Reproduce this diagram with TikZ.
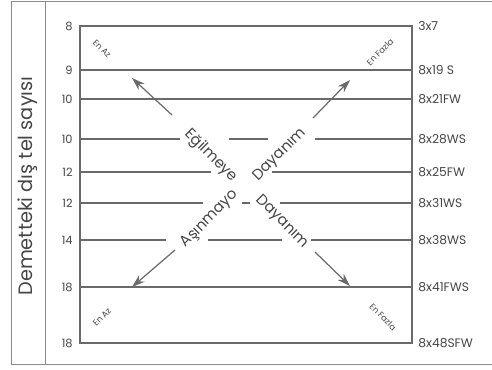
\documentclass[tikz,border=0pt]{standalone}
\usepackage{fontspec}
\setmainfont{Poppins}
\usetikzlibrary{arrows.meta}
\definecolor{inkgray}{HTML}{454545}
\definecolor{rulegray}{HTML}{6A6A6A}
\definecolor{framegray}{HTML}{8A8A8A}

\begin{document}
\begin{tikzpicture}[x=0.02cm, y=-0.02cm,
  >={Stealth[length=2.6mm, width=1.7mm]},
  rule/.style={rulegray, line width=0.6pt},
  arr/.style={->, line width=0.7pt, rulegray},
  lnum/.style={anchor=east, font=\fontsize{6.5}{7}\selectfont, text=inkgray, inner sep=0pt},
  rlab/.style={anchor=west, font=\fontsize{7}{8}\selectfont, text=inkgray, inner sep=0pt},
  diag/.style={font=\fontsize{8.5}{10}\selectfont, text=inkgray, inner sep=0pt},
  tag/.style={font=\fontsize{4.8}{6}\selectfont, text=inkgray, inner sep=0pt},
]
\useasboundingbox (0,0) rectangle (492,369);

% Outer frame and label column
\draw[framegray, line width=0.5pt] (492,1) -- (11,1) -- (11,364) -- (492,364);
\draw[framegray, line width=0.5pt] (45,1) -- (45,364);
\node[rotate=90, font=\fontsize{11}{13}\selectfont, text=inkgray] (axis) at (28,186)
  {Demetteki dış tel sayısı};

% Chart box
\draw[rule] (80,26) rectangle (412,343);

% Row labels
\foreach \y/\l/\r/\n in {26/8/3x7/a, 70/9/8x19 S/b, 99/10/8x21FW/c, 139/10/8x28WS/d,
    172/12/8x25FW/e, 203/12/8x31WS/f, 240/14/8x38WS/g, 287/18/8x41FWS/h, 343/18/8x48SFW/i}{
  \node[lnum] (left\n) at (73,\y) {\l};
  \node[rlab] (right\n) at (418,\y) {\r};
}

% Full rows
\foreach \y in {70,99,287}
  \draw[rule] (80,\y) -- (412,\y);

% Rows broken by the words
\draw[rule] (80,139) -- (180,139) (229,139) -- (268,139) (315,139) -- (412,139);
\draw[rule] (80,172) -- (211,172) (272,172) -- (412,172);
\draw[rule] (80,203) -- (203,203) (242,203) -- (250,203) (280,203) -- (412,203);
\draw[rule] (80,240) -- (166,240) (208,240) -- (282,240) (311,240) -- (412,240);

% Diagonal words
\node[diag, rotate=-45] (egil) at (211,156) {Eğilmeye};
\node[diag, rotate=45] (dayup) at (280,155) {Dayanım};
\node[diag, rotate=45] (asin) at (210,219) {Aşınmayo};
\node[diag, rotate=-45] (daylow) at (282,222) {Dayanım};

% Corner tags
\node[tag, rotate=-45] (azup) at (102,49) {En Az};
\node[tag, rotate=45] (fazup) at (380,52) {En Fazla};
\node[tag, rotate=45] (azlow) at (102,317) {En Az};
\node[tag, rotate=-45] (fazlow) at (383,317) {En Fazla};

% Arrows
\coordinate (ultail) at (172,115);
\coordinate (ulhead) at (132,78);
\coordinate (urtail) at (313,118);
\coordinate (urhead) at (350,80);
\coordinate (lltail) at (175,250);
\coordinate (llhead) at (132,287);
\coordinate (lrtail) at (315,252);
\coordinate (lrhead) at (350,286);
\draw[arr] (ultail) -- (ulhead);
\draw[arr] (urtail) -- (urhead);
\draw[arr] (lltail) -- (llhead);
\draw[arr] (lrtail) -- (lrhead);

\end{tikzpicture}
\end{document}
